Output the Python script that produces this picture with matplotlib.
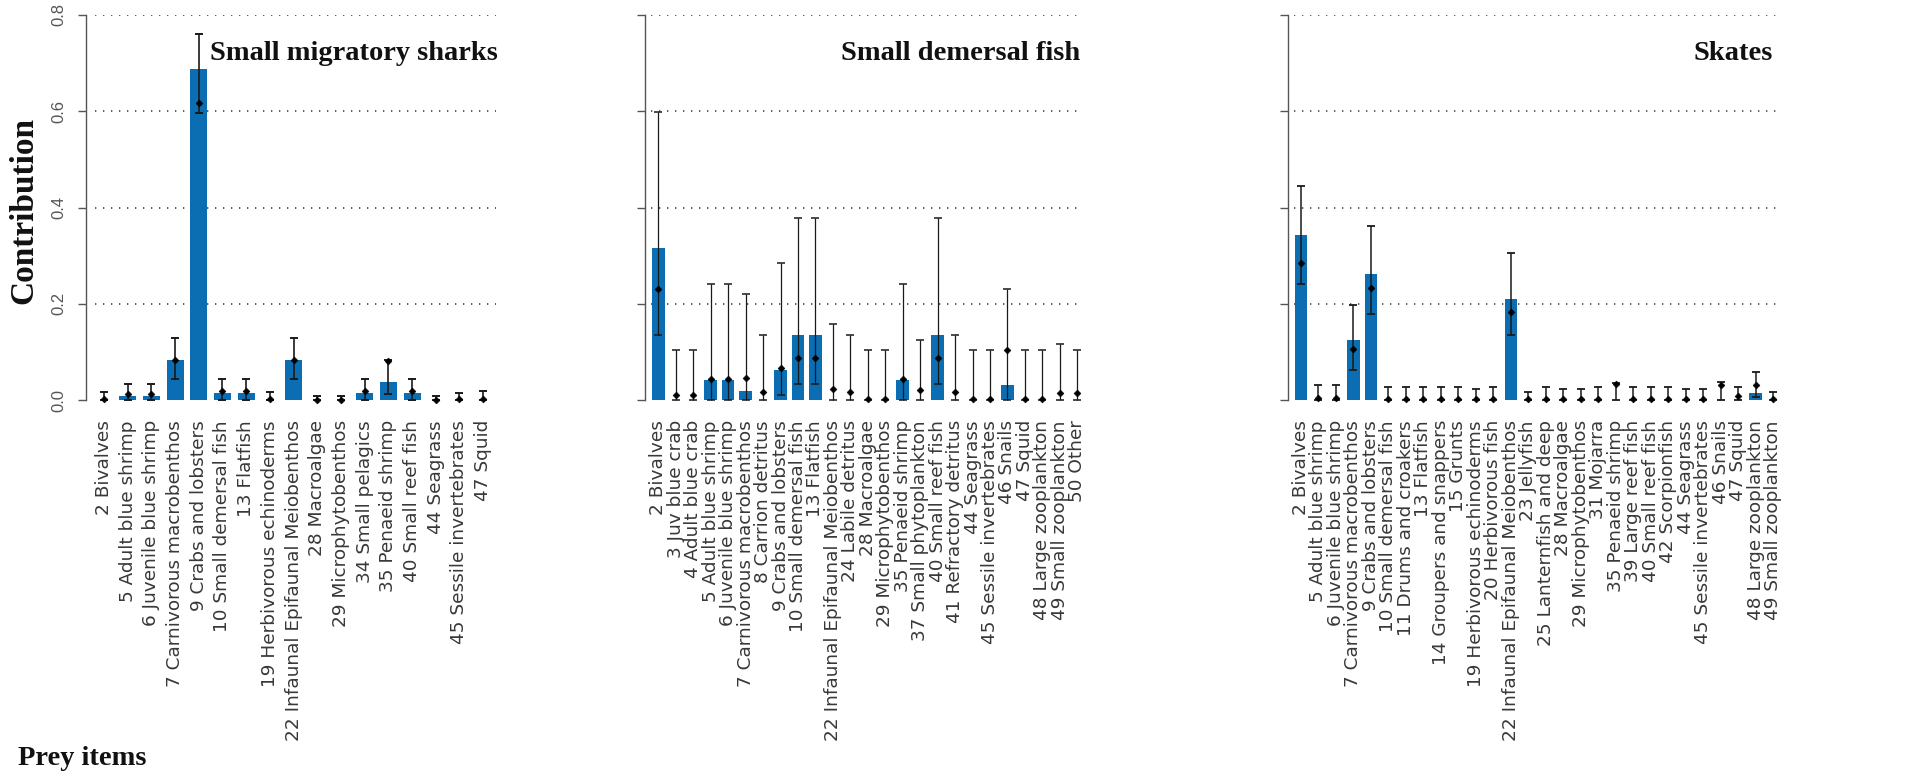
import matplotlib
matplotlib.use("Agg")
import matplotlib.pyplot as plt
import numpy as np

# ---- data -------------------------------------------------------------
sharks_labels = ["2 Bivalves", "5 Adult blue shrimp", "6 Juvenile blue shrimp",
                 "7 Carnivorous macrobenthos", "9 Crabs and lobsters",
                 "10 Small demersal fish", "13 Flatfish", "19 Herbivorous echinoderms",
                 "22 Infaunal Epifaunal Meiobenthos", "28 Macroalgae",
                 "29 Microphytobenthos", "34 Small pelagics", "35 Penaeid shrimp",
                 "40 Small reef fish", "44 Seagrass", "45 Sessile invertebrates",
                 "47 Squid"]
sharks_bar = [0, 0.009, 0.009, 0.083, 0.687, 0.015, 0.015, 0, 0.083, 0, 0,
              0.015, 0.038, 0.015, 0, 0, 0]
sharks_point = [0.002, 0.012, 0.012, 0.083, 0.618, 0.018, 0.018, 0.002, 0.083,
                0.001, 0.001, 0.018, 0.081, 0.018, 0.001, 0.002, 0.003]
sharks_low = [0, 0, 0, 0.044, 0.596, 0, 0, 0, 0.044, 0, 0, 0, 0.012, 0, 0, 0, 0]
sharks_high = [0.017, 0.033, 0.033, 0.128, 0.760, 0.044, 0.044, 0.016, 0.128,
               0.009, 0.009, 0.044, 0.083, 0.044, 0.009, 0.014, 0.019]

demersal_labels = ["2 Bivalves", "3 Juv blue crab", "4 Adult blue crab",
                   "5 Adult blue shrimp", "6 Juvenile blue shrimp",
                   "7 Carnivorous macrobenthos", "8 Carrion detritus",
                   "9 Crabs and lobsters", "10 Small demersal fish", "13 Flatfish",
                   "22 Infaunal Epifaunal Meiobenthos", "24 Labile detritus",
                   "28 Macroalgae", "29 Microphytobenthos", "35 Penaeid shrimp",
                   "37 Small phytoplankton", "40 Small reef fish",
                   "41 Refractory detritus", "44 Seagrass", "45 Sessile invertebrates",
                   "46 Snails", "47 Squid", "48 Large zooplankton",
                   "49 Small zooplankton", "50 Other"]
demersal_bar = [0.315, 0, 0, 0.041, 0.041, 0.019, 0, 0.062, 0.135, 0.135, 0, 0,
                0, 0, 0.041, 0, 0.135, 0, 0, 0, 0.031, 0, 0, 0, 0]
demersal_point = [0.231, 0.010, 0.010, 0.043, 0.043, 0.046, 0.016, 0.067, 0.087,
                  0.087, 0.023, 0.016, 0.002, 0.002, 0.043, 0.021, 0.087, 0.016,
                  0.002, 0.002, 0.104, 0.002, 0.002, 0.015, 0.015]
demersal_low = [0.135, 0, 0, 0, 0, 0, 0, 0.010, 0.033, 0.033, 0, 0, 0, 0, 0, 0,
                0.033, 0, 0, 0, 0, 0, 0, 0, 0]
demersal_high = [0.599, 0.104, 0.104, 0.242, 0.242, 0.221, 0.135, 0.284, 0.378,
                 0.378, 0.157, 0.135, 0.104, 0.104, 0.242, 0.125, 0.378, 0.135,
                 0.104, 0.104, 0.231, 0.104, 0.104, 0.116, 0.104]

skates_labels = ["2 Bivalves", "5 Adult blue shrimp", "6 Juvenile blue shrimp",
                 "7 Carnivorous macrobenthos", "9 Crabs and lobsters",
                 "10 Small demersal fish", "11 Drums and croakers", "13 Flatfish",
                 "14 Groupers and snappers", "15 Grunts", "19 Herbivorous echinoderms",
                 "20 Herbivorous fish", "22 Infaunal Epifaunal Meiobenthos",
                 "23 Jellyfish", "25 Lanternfish and deep", "28 Macroalgae",
                 "29 Microphytobenthos", "31 Mojarra", "35 Penaeid shrimp",
                 "39 Large reef fish", "40 Small reef fish", "42 Scorpionfish",
                 "44 Seagrass", "45 Sessile invertebrates", "46 Snails", "47 Squid",
                 "48 Large zooplankton", "49 Small zooplankton"]
skates_bar = [0.342, 0, 0, 0.125, 0.261, 0, 0, 0, 0, 0, 0, 0, 0.210, 0, 0, 0, 0,
              0, 0, 0, 0, 0, 0, 0, 0, 0, 0.014, 0]
skates_point = [0.285, 0.005, 0.005, 0.107, 0.232, 0.002, 0.002, 0.002, 0.002,
                0.002, 0.002, 0.002, 0.182, 0.002, 0.002, 0.002, 0.002, 0.002,
                0.033, 0.002, 0.002, 0.002, 0.002, 0.002, 0.031, 0.008, 0.031,
                0.002]
skates_low = [0.241, 0, 0, 0.062, 0.179, 0, 0, 0, 0, 0, 0, 0, 0.136, 0, 0, 0, 0,
              0, 0, 0, 0, 0, 0, 0, 0, 0, 0.007, 0]
skates_high = [0.444, 0.031, 0.031, 0.198, 0.361, 0.028, 0.028, 0.028, 0.028,
               0.028, 0.022, 0.028, 0.305, 0.016, 0.028, 0.022, 0.022, 0.028,
               0.036, 0.028, 0.028, 0.028, 0.022, 0.022, 0.038, 0.028, 0.059,
               0.016]

panel_titles = ["Small migratory sharks", "Small demersal fish", "Skates"]
y_ticks = [0.0, 0.2, 0.4, 0.6, 0.8]
y_ticklabels = ["0.0", "0.2", "0.4", "0.6", "0.8"]

# ---- style ------------------------------------------------------------
W, H = 1915, 778
BLUE = "#0b6db2"
AXIS_GREY = "#555555"
LABEL_GREY = "#383838"
SERIF = "Liberation Serif"
SANS = "DejaVu Sans"

fig = plt.figure(figsize=(W / 100, H / 100), dpi=100)
fig.patch.set_facecolor("white")

Y_TOP_PX, Y_ZERO_PX = 15.0, 400.0
PX_PER_UNIT = (Y_ZERO_PX - Y_TOP_PX) / 0.8
Y_MIN = -0.02
Y_BOTTOM_PX = Y_ZERO_PX - Y_MIN * PX_PER_UNIT


def add_panel(left_px, right_px, step_px, first_px):
    x0 = (left_px - first_px) / step_px
    x1 = (right_px - first_px) / step_px
    ax = fig.add_axes([left_px / W, 1 - Y_BOTTOM_PX / H,
                       (right_px - left_px) / W, (Y_BOTTOM_PX - Y_TOP_PX) / H])
    ax.set_xlim(x0, x1)
    ax.set_ylim(Y_MIN, 0.8)
    return ax


panels = [
    (add_panel(86, 496, 23.7, 104.0), sharks_labels, sharks_bar, sharks_point,
     sharks_low, sharks_high, 1.2),
    (add_panel(645, 1082, 17.46, 658.3), demersal_labels, demersal_bar,
     demersal_point, demersal_low, demersal_high, 0.9),
    (add_panel(1288, 1778, 17.49, 1301.0), skates_labels, skates_bar,
     skates_point, skates_low, skates_high, 1.1),
]

for k, (ax, labels, bar, point, low, high, elw) in enumerate(panels):
    x = np.arange(len(labels))
    bar = np.asarray(bar)
    point = np.asarray(point)
    low = np.asarray(low)
    high = np.asarray(high)

    # dotted reference lines
    ax.hlines([0.2, 0.4, 0.6, 0.8], -0.4, ax.get_xlim()[1], colors="#444444",
              linestyles=(0, (0.8, 4.0)), linewidth=1.2, zorder=1)

    ax.bar(x, bar, width=0.72, color=BLUE, linewidth=0, zorder=2)
    ax.errorbar(x, point, yerr=[point - low, high - point], fmt="none",
                ecolor="#1a1a1a", elinewidth=elw, capsize=2.6, capthick=elw + 0.2,
                zorder=3, clip_on=False)
    ax.plot(x, point, linestyle="none", marker="D", markersize=3.5,
            color="black", markeredgewidth=0.4, zorder=4, clip_on=False)

    for side in ("top", "right", "bottom"):
        ax.spines[side].set_visible(False)
    ax.spines["left"].set_bounds(0, 0.8)
    ax.spines["left"].set_color(AXIS_GREY)
    ax.spines["left"].set_linewidth(1.0)

    ax.set_yticks(y_ticks)
    ax.tick_params(axis="y", length=6, width=1.0, color=AXIS_GREY, pad=8)
    if k == 0:
        ax.set_yticklabels(y_ticklabels, rotation=90, va="center",
                           fontsize=12, color=AXIS_GREY,
                           fontfamily="Liberation Sans")
    else:
        ax.set_yticklabels([])

    ax.set_xticks(x)
    ax.set_xticklabels(labels, rotation=90, ha="center", va="top",
                       fontsize=13.3, color=LABEL_GREY, fontfamily=SANS)
    ax.tick_params(axis="x", length=0, pad=7.5)
    ax.set_facecolor("none")

# panel titles
for (right_px, title) in zip([498, 1080, 1773], panel_titles):
    fig.text(right_px / W, 1 - 60 / H, title, ha="right", va="baseline",
             fontsize=20.5, fontweight="bold", fontfamily=SERIF, color="#111111")

fig.text(24 / W, 1 - 210 / H, "Contribution", rotation=90, ha="center",
         va="center", fontsize=24, fontweight="bold", fontfamily=SERIF,
         color="#111111")
fig.text(18 / W, 1 - 765 / H, "Prey items", ha="left", va="baseline",
         fontsize=20.5, fontweight="bold", fontfamily=SERIF, color="#111111")

fig.savefig("out.png", dpi=100, facecolor="white")
